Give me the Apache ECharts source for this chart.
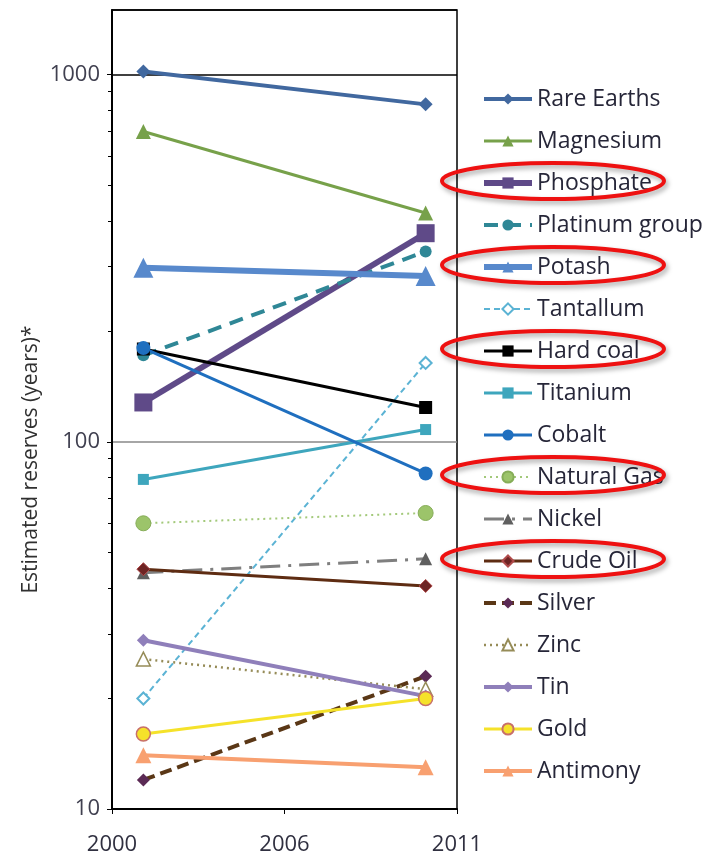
<!DOCTYPE html>
<html>
<head>
<meta charset="utf-8">
<script src="https://cdn.jsdelivr.net/npm/echarts@6/dist/echarts.min.js"></script>
<style>
  html, body { margin: 0; padding: 0; background: #fff; }
  #main { width: 712px; height: 858px; }
</style>
</head>
<body>
<div id="main"></div>
<script>
// survey years, x axis is years since baseYear
const baseYear = 2000;
const years = [2001, 2010];
const yearTickLabels = ['2000', '2006', '2011'];
const minorTickValues = [20, 30, 40, 50, 60, 70, 80, 90, 200, 300, 400, 500, 600, 700, 800, 900];

const names = ['Rare Earths', 'Magnesium', 'Phosphate', 'Platinum group', 'Potash', 'Tantallum',
  'Hard coal', 'Titanium', 'Cobalt', 'Natural Gas', 'Nickel', 'Crude Oil', 'Silver', 'Zinc',
  'Tin', 'Gold', 'Antimony'];

const rareEarths = [1020, 830];
const magnesium = [700, 420];
const phosphate = [128, 370];
const platinumGroup = [172, 330];
const potash = [298, 283];
const tantallum = [20, 164];
const hardCoal = [179, 124];
const titanium = [79, 108];
const cobalt = [180, 82];
const naturalGas = [60, 64];
const nickel = [44, 48];
const crudeOil = [45, 40.5];
const silver = [12, 23];
const zinc = [25.6, 21.2];
const tin = [28.8, 20.3];
const gold = [16, 20];
const antimony = [14, 13];

const values = [rareEarths, magnesium, phosphate, platinumGroup, potash, tantallum, hardCoal,
  titanium, cobalt, naturalGas, nickel, crudeOil, silver, zinc, tin, gold, antimony];

// names that are circled in red
const circled = ['Phosphate', 'Potash', 'Hard coal', 'Natural Gas', 'Crude Oil'];

// line / marker look per series, same order as names
const looks = [
  { c: '#41689f', w: 4, sym: 'diamond', size: 14 },
  { c: '#77a14a', w: 3, sym: 'triangle', size: 15 },
  { c: '#5f4a88', w: 6, sym: 'rect', size: 18 },
  { c: '#2f8796', w: 4, sym: 'circle', size: 12, dash: [14, 9] },
  { c: '#5889cc', w: 6, sym: 'triangle', size: 20 },
  { c: '#5bb3d4', w: 2, sym: 'diamond', size: 12, dash: [6, 4], fill: '#fff', bw: 2 },
  { c: '#000000', w: 3, sym: 'rect', size: 13 },
  { c: '#3ea6bd', w: 3, sym: 'rect', size: 11 },
  { c: '#1f6fbf', w: 3, sym: 'circle', size: 14 },
  { c: '#a3c97a', w: 2, sym: 'circle', size: 15, dash: [2, 4], fill: '#9cc46a', border: '#86ad58', bw: 1 },
  { c: '#7f7f7f', w: 3, sym: 'triangle', size: 13, dash: [20, 8, 3, 8], fill: '#5f5f5f' },
  { c: '#5e2c12', w: 3, sym: 'diamond', size: 13, fill: '#6e2424', border: '#b04a4a', bw: 1 },
  { c: '#5a3716', w: 4, sym: 'diamond', size: 13, dash: [12, 6], fill: '#5b2a55' },
  { c: '#968c58', w: 2.5, sym: 'triangle', size: 14, dash: [2, 4], fill: '#fff', border: '#968c58', bw: 1.5 },
  { c: '#8f7fba', w: 4, sym: 'diamond', size: 13 },
  { c: '#f5e22a', w: 3, sym: 'circle', size: 14, fill: '#f5e22a', border: '#c8706a', bw: 1.5 },
  { c: '#f8a070', w: 4, sym: 'triangle', size: 16 }
];

const legendTop = 82;
const legendGap = 42;

const series = names.map(function (name, i) {
  const lk = looks[i];
  return {
    name: name,
    type: 'line',
    data: years.map(function (y, k) { return [y - baseYear, values[i][k]]; }),
    symbol: lk.sym,
    symbolSize: lk.size,
    showAllSymbol: true,
    lineStyle: { color: lk.c, width: lk.w, type: lk.dash || 'solid' },
    itemStyle: {
      color: lk.fill || lk.c,
      borderColor: lk.border || lk.c,
      borderWidth: lk.bw || 0
    },
    emphasis: { disabled: true },
    animation: false
  };
});

const ellipses = circled.map(function (name) {
  const idx = names.indexOf(name);
  return {
    type: 'ellipse',
    shape: { cx: 553, cy: legendTop + 15 + idx * legendGap, rx: 111, ry: 18 },
    style: {
      fill: 'none', stroke: '#ee1111', lineWidth: 4,
      shadowBlur: 5, shadowOffsetX: 2, shadowOffsetY: 3, shadowColor: 'rgba(0,0,0,0.35)'
    },
    z: 100
  };
});

const chart = echarts.init(document.getElementById('main'));
chart.setOption({
  backgroundColor: '#fff',
  textStyle: { fontFamily: 'Open Sans' },
  grid: {
    left: 112, right: 255, top: 10, bottom: 49,
    show: true, borderColor: '#000', borderWidth: 1.5, backgroundColor: 'transparent'
  },
  legend: {
    orient: 'vertical',
    left: 476,
    top: legendTop,
    itemWidth: 48,
    itemHeight: 14,
    itemGap: 42 - 24,
    lineStyle: { width: 'inherit' },
    textStyle: { fontFamily: 'Open Sans', fontSize: 23, color: '#262638', lineHeight: 24 },
    data: names,
    selectedMode: false
  },
  xAxis: {
    type: 'value',
    min: 0,
    max: 11,
    interval: 5.5,
    axisLine: { lineStyle: { color: '#000', width: 2 } },
    axisTick: { show: true, length: 5, lineStyle: { color: '#000' } },
    axisLabel: {
      margin: 25,
      fontSize: 22,
      color: '#303040',
      formatter: function (v, idx) { return yearTickLabels[idx] || ''; }
    },
    splitLine: { show: false }
  },
  yAxis: [{
    type: 'log',
    logBase: 10,
    min: 10,
    max: 1500,
    name: 'Estimated reserves (years)*',
    nameLocation: 'middle',
    nameGap: 70,
    nameTextStyle: { fontFamily: 'Open Sans', fontSize: 21, color: '#303030', padding: [0, 100, 0, 0] },
    axisLine: { show: true, lineStyle: { color: '#000', width: 2 } },
    axisTick: { show: true, length: 5, lineStyle: { color: '#000' } },
    axisLabel: {
      fontSize: 22, color: '#404050', margin: 12, showMaxLabel: false,
      formatter: function (v) { return String(Math.round(v)); }
    },
    splitLine: { show: true, lineStyle: { color: ['#000', '#888', '#000', '#000'], width: 1.5 } }
  }, {
    type: 'log',
    logBase: 10,
    min: 10,
    max: 1500,
    position: 'left',
    axisLine: { show: false },
    axisTick: { show: true, length: 4, customValues: minorTickValues, lineStyle: { color: '#000' } },
    axisLabel: { show: false },
    splitLine: { show: false }
  }],
  series: series,
  graphic: ellipses
});
</script>
</body>
</html>
